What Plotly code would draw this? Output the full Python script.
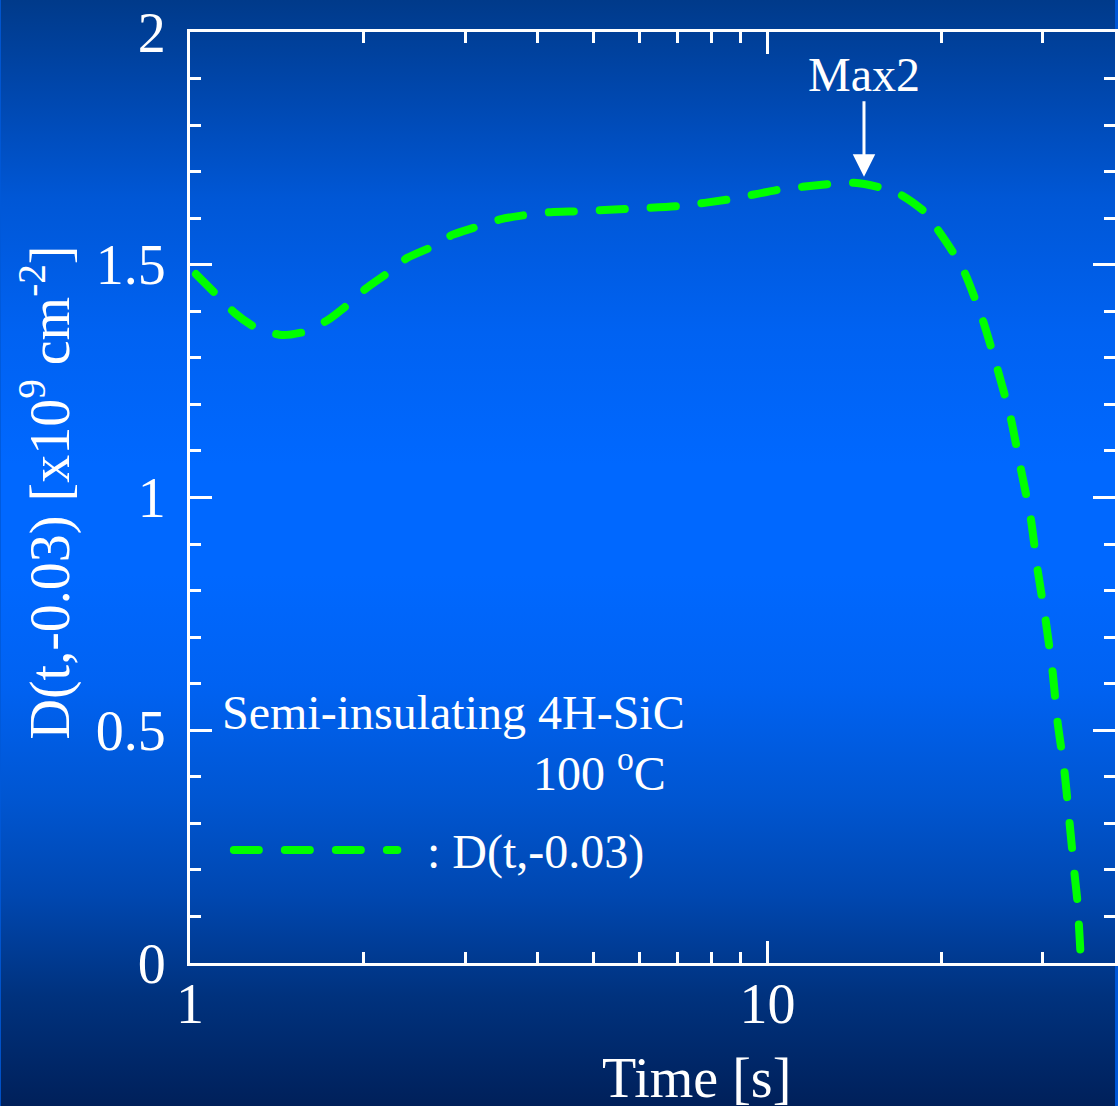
import base64
import numpy as np
import plotly.graph_objects as go

# D(t,-0.03) for semi-insulating 4H-SiC at 100 C, in units of 1e9 cm^-2
time_s = [1.024, 1.113, 1.196, 1.295, 1.442, 1.580, 1.731, 1.875, 2.021, 2.198,
          2.379, 2.618, 2.846, 3.131, 3.458, 3.820, 4.220, 4.717, 5.754, 7.021,
          8.630, 10.44, 12.74, 14.13, 15.55, 17.04, 18.75, 19.74, 20.96, 21.98,
          23.61, 25.06, 26.39, 27.46, 28.58, 29.38, 30.33, 31.19, 31.81, 32.71,
          33.37, 34.03, 34.44, 34.86]
d_value = [1.480, 1.435, 1.396, 1.366, 1.349, 1.356, 1.381, 1.414, 1.450, 1.482,
           1.515, 1.538, 1.564, 1.581, 1.598, 1.607, 1.613, 1.615, 1.620, 1.626,
           1.641, 1.661, 1.673, 1.676, 1.667, 1.650, 1.613, 1.575, 1.527, 1.482,
           1.381, 1.274, 1.171, 1.063, 0.956, 0.844, 0.737, 0.625, 0.518, 0.410,
           0.301, 0.193, 0.131, 0.021]

# second maximum marker
max2_time = 14.7
max2_value = 1.689

x_tick_vals = [1, 10]
x_tick_text = ["1", "10"]
y_tick_vals = [0, 0.5, 1, 1.5, 2]
y_tick_text = ["0", "0.5", "1", "1.5", "2"]

W, H = 1118, 1106
ML, MR, MT, MB = 190, 0, 32, 143
PW, PH = W - ML - MR, H - MT - MB

FONT = "Liberation Serif, Times New Roman, serif"
GREEN = "#00ff00"
DASH = "25px,26px"

# vertical background gradient (offset, colour)
bg_stops = [(0.00, "#003a8a"), (0.09, "#0048b0"), (0.18, "#0057d6"),
            (0.30, "#0062f2"), (0.42, "#0068ff"), (0.52, "#0068ff"),
            (0.62, "#0062f2"), (0.72, "#0056d2"), (0.81, "#0047b0"),
            (0.90, "#00327e"), (1.00, "#00205a")]
stops_svg = "".join(f'<stop offset="{o}" stop-color="{c}"/>' for o, c in bg_stops)
svg = (f'<svg xmlns="http://www.w3.org/2000/svg" width="{W}" height="{H}" '
       f'preserveAspectRatio="none" viewBox="0 0 {W} {H}">'
       f'<defs><linearGradient id="g" x1="0" y1="0" x2="0" y2="1">{stops_svg}'
       f'</linearGradient></defs><rect width="{W}" height="{H}" fill="url(#g)"/></svg>')
bg_uri = "data:image/svg+xml;base64," + base64.b64encode(svg.encode()).decode()


def px_x(p):
    return (p - ML) / PW


def px_y(p):
    return (H - MB - p) / PH


fig = go.Figure()
fig.add_trace(go.Scatter(
    x=time_s, y=d_value, mode="lines",
    line=dict(color=GREEN, width=8, dash=DASH, shape="spline", smoothing=0.6),
    showlegend=False, hoverinfo="skip"))

axis_common = dict(
    showline=True, linecolor="white", linewidth=3, mirror="ticks",
    ticks="inside", ticklen=22, tickwidth=3, tickcolor="white",
    showgrid=False, zeroline=False,
    tickfont=dict(family=FONT, size=56, color="white"),
)

fig.update_xaxes(
    type="log", range=[0, np.log10(40)],
    tickvals=x_tick_vals, ticktext=x_tick_text,
    minor=dict(ticks="inside", ticklen=11, tickwidth=3, tickcolor="white",
               dtick="D1", showgrid=False),
    ticklabelstandoff=-10,
    **axis_common)
fig.update_yaxes(
    range=[0, 2], tickvals=y_tick_vals, ticktext=y_tick_text,
    minor=dict(ticks="inside", ticklen=11, tickwidth=3, tickcolor="white",
               dtick=0.1, showgrid=False),
    ticklabelstandoff=10,
    **axis_common)

txt = dict(family=FONT, size=48, color="white")
annotations = [
    dict(xref="paper", yref="paper", x=px_x(698), y=px_y(1078),
         text="Time [s]", showarrow=False, xanchor="center", yanchor="middle",
         font=dict(family=FONT, size=56, color="white")),
    dict(xref="paper", yref="paper", x=px_x(46), y=px_y(492),
         text="D(t,-0.03) [x10<sup>9</sup> cm<sup>-2</sup>]", textangle=-90,
         showarrow=False, xanchor="center", yanchor="middle",
         font=dict(family=FONT, size=56, color="white")),
    dict(xref="paper", yref="paper", x=px_x(220), y=px_y(712),
         text="Semi-insulating 4H-SiC", showarrow=False,
         xanchor="left", yanchor="middle", font=txt),
    dict(xref="paper", yref="paper", x=px_x(670), y=px_y(770),
         text="100 <sup>o</sup>C", showarrow=False,
         xanchor="right", yanchor="middle", font=txt),
    dict(xref="paper", yref="paper", x=px_x(426), y=px_y(852),
         text=": D(t,-0.03)", showarrow=False,
         xanchor="left", yanchor="middle", font=txt),
    dict(xref="x", yref="y", x=np.log10(max2_time), y=max2_value,
         ax=0, ay=-77, text="", showarrow=True,
         arrowhead=2, arrowwidth=3, arrowsize=1.5, arrowcolor="white"),
    dict(xref="x", yref="paper", x=np.log10(max2_time), y=px_y(74),
         text="Max2", showarrow=False, xanchor="center", yanchor="middle",
         font=txt),
]

fig.update_layout(
    width=W, height=H,
    margin=dict(l=ML, r=MR, t=MT, b=MB, pad=0),
    paper_bgcolor="#0058d8", plot_bgcolor="rgba(0,0,0,0)",
    annotations=annotations,
    images=[dict(source=bg_uri, xref="paper", yref="paper",
                 x=px_x(0), y=px_y(0), sizex=W / PW, sizey=H / PH,
                 xanchor="left", yanchor="top", sizing="stretch",
                 layer="below")],
    shapes=[dict(type="line", xref="paper", yref="paper",
                 x0=px_x(234), x1=px_x(398), y0=px_y(850), y1=px_y(850),
                 line=dict(color=GREEN, width=8, dash=DASH))],
)

# rounded dash ends on the curve and legend sample
post = """
var s = document.createElement('style');
s.innerHTML = '.scatterlayer path.js-line, .shapelayer path {stroke-linecap: round;}';
document.head.appendChild(s);
"""
fig.write_html("out.html", post_script=post)
